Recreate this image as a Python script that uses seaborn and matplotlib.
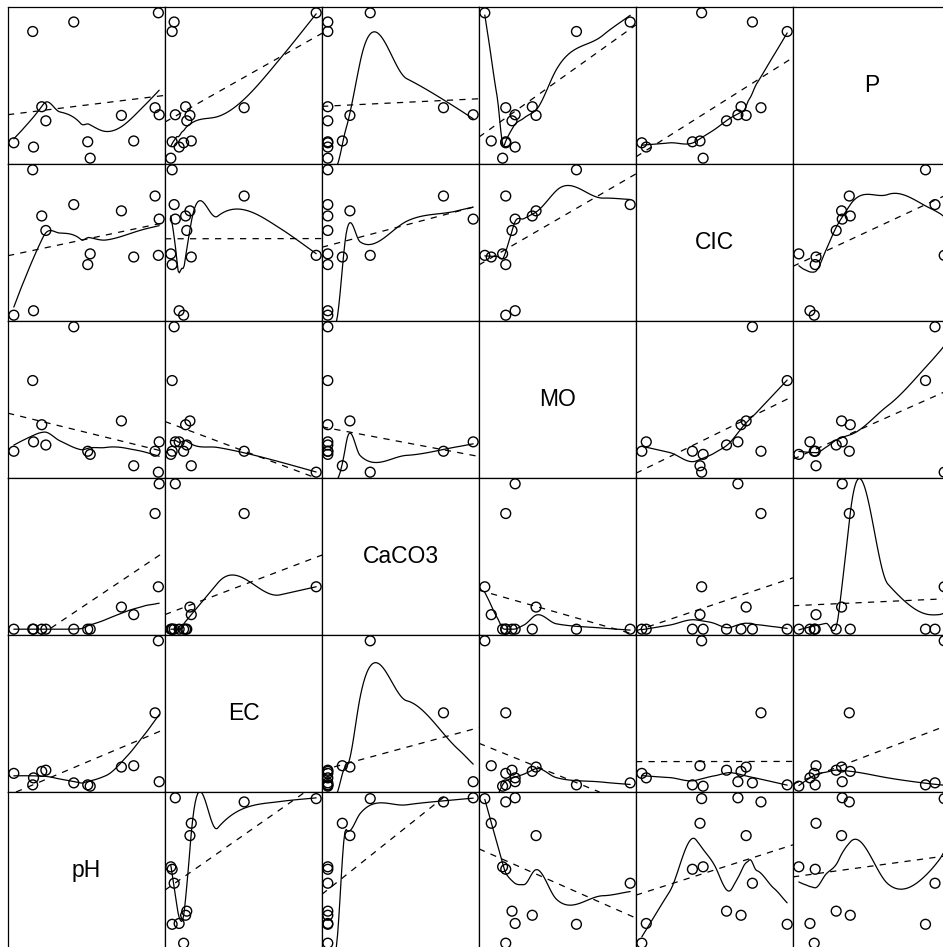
import numpy as np
import pandas as pd
import matplotlib
matplotlib.use("Agg")
import matplotlib.pyplot as plt
import seaborn as sns

# Values (position inside each panel, 0..1)
pH = [0.050, 0.165, 0.170, 0.220, 0.245, 0.415, 0.500, 0.515, 0.705, 0.780, 0.910, 0.930, 0.935]
EC = [0.134, 0.065, 0.107, 0.146, 0.153, 0.077, 0.065, 0.057, 0.172, 0.180, 0.498, 0.931, 0.084]
CaCO3 = [0.050, 0.050, 0.050, 0.050, 0.050, 0.050, 0.050, 0.050, 0.184, 0.138, 0.751, 0.307, 0.931]
MO = [0.184, 0.613, 0.241, 0.345, 0.222, 0.939, 0.184, 0.165, 0.368, 0.096, 0.184, 0.057, 0.241]
CIC = [0.057, 0.939, 0.084, 0.659, 0.571, 0.728, 0.364, 0.429, 0.690, 0.410, 0.780, 0.420, 0.640]
P = [0.154, 0.833, 0.128, 0.374, 0.288, 0.891, 0.160, 0.060, 0.321, 0.165, 0.368, 0.947, 0.325]

x_vars = ["pH", "EC", "CaCO3", "MO", "CIC", "P"]
y_vars = x_vars[::-1]

df = pd.DataFrame({"pH": pH, "EC": EC, "CaCO3": CaCO3, "MO": MO, "CIC": CIC, "P": P})


def local_fit(x, y, x0, q, rob, degree):
    # weighted local polynomial at x0 -> (value, slope)
    d = np.abs(x - x0)
    rho = max(np.sort(d)[q - 1], 1e-12)
    w = np.clip(1 - (d / rho) ** 3, 0, None) ** 3 * rob
    X = np.vander(x - x0, degree + 1, increasing=True) * np.sqrt(w)[:, None]
    norms = np.linalg.norm(X, axis=0)
    norms[norms == 0] = 1
    beta = np.linalg.lstsq(X / norms, y * np.sqrt(w), rcond=None)[0] / norms
    return beta[0], beta[1]


def hermite(verts, fits, xe):
    k = np.clip(np.searchsorted(verts, xe) - 1, 0, len(verts) - 2)
    h = verts[k + 1] - verts[k]
    t = (xe - verts[k]) / h
    f0, s0 = fits[k, 0], fits[k, 1]
    f1, s1 = fits[k + 1, 0], fits[k + 1, 1]
    return (f0 * (2 * t**3 - 3 * t**2 + 1) + f1 * (-2 * t**3 + 3 * t**2)
            + h * s0 * (t**3 - 2 * t**2 + t) + h * s1 * (t**3 - t**2))


def loess(x, y, span=2 / 3, degree=1, iterations=4, n_out=120):
    # robust loess: local fits at cell vertices, cubic Hermite in between
    x = np.asarray(x, float)
    y = np.asarray(y, float)
    q = int(np.floor(len(x) * span))
    u = np.unique(x)
    mu = 0.005 * (x.max() - x.min())
    verts = np.concatenate([[x.min() - mu], (u[:-1] + u[1:]) / 2, [x.max() + mu]])
    rob = np.ones(len(x))
    for it in range(iterations):
        fits = np.array([local_fit(x, y, v, q, rob, degree) for v in verts])
        if it == iterations - 1:
            break
        res = y - hermite(verts, fits, x)
        cmad = 6 * np.median(np.abs(res))
        if cmad < 1e-12:
            break
        r = np.abs(res) / cmad
        rob = np.where(r <= 0.001, 1.0, np.where(r > 0.999, 0.0, (1 - r**2) ** 2))
    grid = np.linspace(x.min(), x.max(), n_out)
    return grid, hermite(verts, fits, grid)


def panel(x, y, **kws):
    ax = plt.gca()
    sns.scatterplot(x=x, y=y, ax=ax, s=50, facecolor="none",
                    edgecolor="black", linewidth=1.0)
    slope, icpt = np.polyfit(x, y, 1)
    ax.axline((0, icpt), slope=slope, color="black", lw=0.9, ls=(0, (5, 5)))
    gx, gy = loess(x, y)
    ax.plot(gx, gy, color="black", lw=0.9)


sns.set_style("white")
plt.rcParams["font.family"] = ["Liberation Sans", "DejaVu Sans"]

g = sns.PairGrid(df, x_vars=x_vars, y_vars=y_vars, height=1.57, despine=False)
g.map_offdiag(panel)

W, H = 943, 947
g.figure.set_size_inches(W / 100, H / 100)

for i, yv in enumerate(y_vars):
    for j, xv in enumerate(x_vars):
        ax = g.axes[i, j]
        xr = df[xv].max() - df[xv].min()
        yr = df[yv].max() - df[yv].min()
        ax.set_xlim(df[xv].min() - 0.04 * xr, df[xv].max() + 0.04 * xr)
        ax.set_ylim(df[yv].min() - 0.04 * yr, df[yv].max() + 0.04 * yr)
        ax.set_xticks([])
        ax.set_yticks([])
        ax.set_xlabel("")
        ax.set_ylabel("")
        for sp in ax.spines.values():
            sp.set_color("black")
            sp.set_linewidth(0.9)
        if xv == yv:
            ax.text(0.5, 0.5, xv, transform=ax.transAxes, ha="center",
                    va="center", fontsize=16.5, color="black")
        left = 8 + 157 * j
        top = 7 + 157 * i
        ax.set_position([left / W, 1 - (top + 157) / H, 157 / W, 157 / H])

g.figure.savefig("out.png", dpi=100)
